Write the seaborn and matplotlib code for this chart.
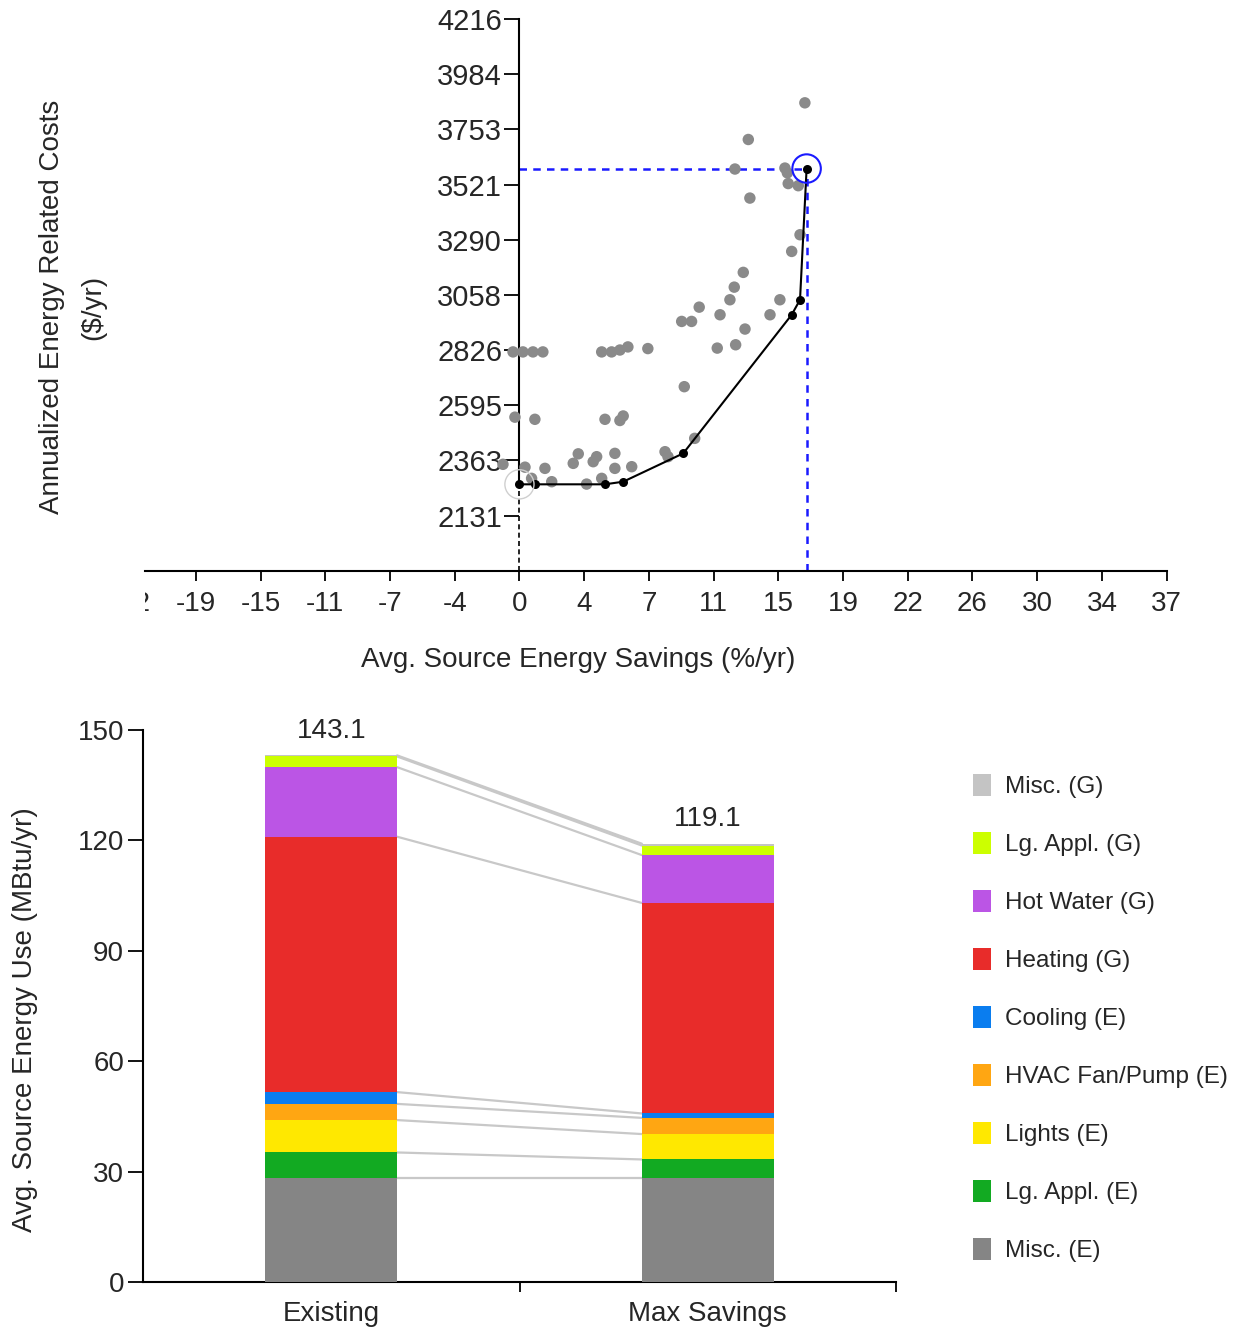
import numpy as np
import pandas as pd
import matplotlib
matplotlib.use("Agg")
import matplotlib.pyplot as plt
import seaborn as sns
from matplotlib.patches import Patch
from matplotlib.transforms import Bbox, TransformedBbox, offset_copy

sns.set_theme(style="white")
plt.rcParams['font.family'] = ['Liberation Sans', 'DejaVu Sans']

# ---------------- top chart data ----------------
option_savings = [-0.37, 0.2, 0.78, 1.35, 4.74, 5.31, 5.79, 6.25, 7.4,
                  -0.26, 0.89, 4.93, 5.98, 5.79,
                  -0.95, 0.32, 1.47, 3.39, 3.1, 4.45, 4.25, 5.5, 5.5, 6.47,
                  8.39, 8.56, 0.7, 1.86, 3.87, 4.74, 10.1,
                  9.5, 9.35, 9.92, 10.36, 11.56, 12.13, 12.38, 12.9, 11.4,
                  12.46, 13.0, 14.44, 15.01, 15.69, 16.17,
                  12.42, 15.3, 15.44, 15.49, 16.07, 13.28, 13.19, 16.45]
option_costs = [2818, 2818, 2818, 2818, 2818, 2818, 2826, 2839, 2832,
                2544, 2535, 2535, 2549, 2530,
                2346, 2334, 2329, 2390, 2350, 2378, 2357, 2392, 2329, 2336,
                2399, 2378, 2287, 2273, 2263, 2287, 2455,
                2672, 2946, 2946, 3006, 2974, 3037, 3090, 3152, 2834,
                2848, 2914, 2974, 3037, 3240, 3310,
                3586, 3590, 3570, 3525, 3516, 3464, 3710, 3864]
frontier_savings = [0.0, 0.89, 4.93, 5.98, 9.44, 15.69, 16.17, 16.55]
frontier_costs = [2262, 2262, 2262, 2273, 2392, 2974, 3037, 3588]

x_tick_values = [-22.38, -18.65, -14.92, -11.19, -7.46, -3.73, 0.0, 3.73, 7.46,
                 11.19, 14.92, 18.65, 22.38, 26.11, 29.84, 33.57, 37.3]
x_tick_labels = ['-22', '-19', '-15', '-11', '-7', '-4', '0', '4', '7',
                 '11', '15', '19', '22', '26', '30', '34', '37']
y_tick_values = [2131, 2363, 2595, 2826, 3058, 3290, 3521, 3753, 3984, 4216]

# ---------------- bottom chart data ----------------
categories = ['Existing', 'Max Savings']
end_uses = ['Misc. (E)', 'Lg. Appl. (E)', 'Lights (E)', 'HVAC Fan/Pump (E)',
            'Cooling (E)', 'Heating (G)', 'Hot Water (G)', 'Lg. Appl. (G)', 'Misc. (G)']
existing_use = [28.3, 6.9, 8.8, 4.4, 3.2, 69.4, 18.9, 2.9, 0.3]
max_savings_use = [28.3, 5.0, 6.9, 4.4, 1.2, 57.2, 13.0, 2.6, 0.5]
end_use_colors = ['#858585', '#12aa22', '#ffe800', '#ffa612', '#0a7def',
                  '#e82c2a', '#bb55e5', '#ccff00', '#c4c4c4']
energy_ticks = [0, 30, 60, 90, 120, 150]

W, H = 1238, 1331
fig = plt.figure(figsize=(W / 100, H / 100), dpi=100)
ax1 = fig.add_axes([145 / W, 1 - 571 / H, (1167 - 145) / W, (571 - 19) / H])
ax2 = fig.add_axes([143 / W, 1 - 1282 / H, (896 - 143) / W, (1282 - 730) / H])

# ---------------- top chart ----------------
ymin, ymax = 1898, 4216
opts = pd.DataFrame({'savings': option_savings, 'cost': option_costs})
sns.scatterplot(data=opts, x='savings', y='cost', color='#8a8a8a', s=68,
                edgecolor='none', ax=ax1, zorder=3)
front = pd.DataFrame({'savings': frontier_savings, 'cost': frontier_costs})
sns.lineplot(data=front, x='savings', y='cost', sort=False, estimator=None,
             color='black', linewidth=1.5, marker='o', markersize=6.5,
             markeredgewidth=0, ax=ax1, zorder=4)
base_x, base_y = frontier_savings[0], frontier_costs[0]
max_x, max_y = frontier_savings[-1], frontier_costs[-1]
ax1.set_xlim(-21.58, 37.32)
ax1.set_ylim(ymin, ymax)
ax1.plot([base_x, base_x], [ymin, base_y], color='black', ls=(0, (3, 2)), lw=1.2, zorder=2)
ax1.plot([max_x, max_x], [ymin, max_y], color='#1a1aff', ls=(0, (3, 2.5)), lw=1.8, zorder=2)
ax1.plot([base_x, max_x], [max_y, max_y], color='#1a1aff', ls=(0, (3, 2.5)), lw=1.8, zorder=2)
ax1.scatter([base_x], [base_y], s=440, facecolors='none', edgecolors='#cfcfcf', linewidths=1.0, zorder=5)
ax1.scatter([max_x], [max_y], s=420, facecolors='none', edgecolors='#1a1aff', linewidths=1.5, zorder=5)

for s in ['top', 'right']:
    ax1.spines[s].set_visible(False)
ax1.spines['left'].set_position(('data', 0))
ax1.spines['left'].set_bounds(base_y, ymax)
for s in ['left', 'bottom']:
    ax1.spines[s].set_color('black')
    ax1.spines[s].set_linewidth(1.5)
ax1.set_xticks(x_tick_values[1:], labels=x_tick_labels[1:])
ax1.set_yticks(y_tick_values, labels=[str(v) for v in y_tick_values])
ax1.tick_params(axis='x', direction='out', length=7.2, width=1.3, labelsize=20, pad=7,
                bottom=True, color='black')
ax1.tick_params(axis='y', direction='out', length=10.5, width=1.3, labelsize=21, pad=2,
                left=True, color='black')
ax1.set_xlabel('')
ax1.set_ylabel('')
ax1.grid(False)

# clipped leftmost tick label
trans = offset_copy(ax1.get_xaxis_transform(), fig=fig, y=-(7.2 + 7), units='points')
t = fig.text(x_tick_values[0], 0, x_tick_labels[0], transform=trans,
             ha='center', va='top', fontsize=20)
t.set_clip_box(TransformedBbox(Bbox([[0, -1], [1, 2]]), ax1.transAxes))
t.set_clip_on(True)

fig.text(578 / W, 1 - 660 / H, 'Avg. Source Energy Savings (%/yr)', ha='center', va='center', fontsize=20)
fig.text(52 / W, 1 - 307 / H, 'Annualized Energy Related Costs', rotation=90,
         ha='center', va='center', fontsize=20)
fig.text(93 / W, 1 - 307 / H, '($/yr)', rotation=90, ha='center', va='center', fontsize=20)

# ---------------- bottom chart ----------------
bar_w = 0.35
cum_exist = np.cumsum(existing_use)
cum_max = np.cumsum(max_savings_use)
for i in reversed(range(len(end_uses))):
    layer = pd.DataFrame({'scenario': categories, 'top': [cum_exist[i], cum_max[i]]})
    sns.barplot(data=layer, x='scenario', y='top', color=end_use_colors[i], saturation=1,
                width=bar_w, errorbar=None, linewidth=0, ax=ax2, zorder=3)
for ce, cm in zip(cum_exist, cum_max):
    ax2.plot([0 + bar_w / 2, 1 - bar_w / 2], [ce, cm], color='#c8c8c8', lw=1.6, zorder=2)
for i, tot in enumerate([cum_exist[-1], cum_max[-1]]):
    ax2.text(i, tot + 3.2, f'{tot:.1f}', ha='center', va='bottom', fontsize=20)

ax2.set_xlim(-0.5, 1.5)
ax2.set_ylim(0, 150)
ax2.set_yticks(energy_ticks, labels=[str(v) for v in energy_ticks])
ax2.set_xticks([0.5, 1.5], labels=['', ''])
ax2.set_xticks([0, 1], labels=categories, minor=True)
ax2.tick_params(axis='x', which='major', direction='out', length=7.2, width=1.3, bottom=True, color='black')
ax2.tick_params(axis='x', which='minor', length=0, pad=14, labelsize=20, bottom=True)
ax2.tick_params(axis='y', direction='out', length=10.5, width=1.3, labelsize=20, pad=3, left=True, color='black')
for s in ['top', 'right']:
    ax2.spines[s].set_visible(False)
for s in ['left', 'bottom']:
    ax2.spines[s].set_color('black')
    ax2.spines[s].set_linewidth(1.5)
ax2.set_xlabel('')
ax2.set_ylabel('')
ax2.grid(False)

fig.text(25 / W, 1 - 1020 / H, 'Avg. Source Energy Use (MBtu/yr)', rotation=90,
         ha='center', va='center', fontsize=20)

handles = [Patch(facecolor=c, edgecolor='none') for c in reversed(end_use_colors)]
ax2.legend(handles, list(reversed(end_uses)), loc='upper left',
           bbox_to_anchor=(973 / W, 1 - 774 / H), bbox_transform=fig.transFigure,
           frameon=False, fontsize=17.5, handlelength=0.72, handleheight=1.0,
           handletextpad=0.6, labelspacing=1.39, borderpad=0, borderaxespad=0)

fig.savefig('out.png', dpi=100)
